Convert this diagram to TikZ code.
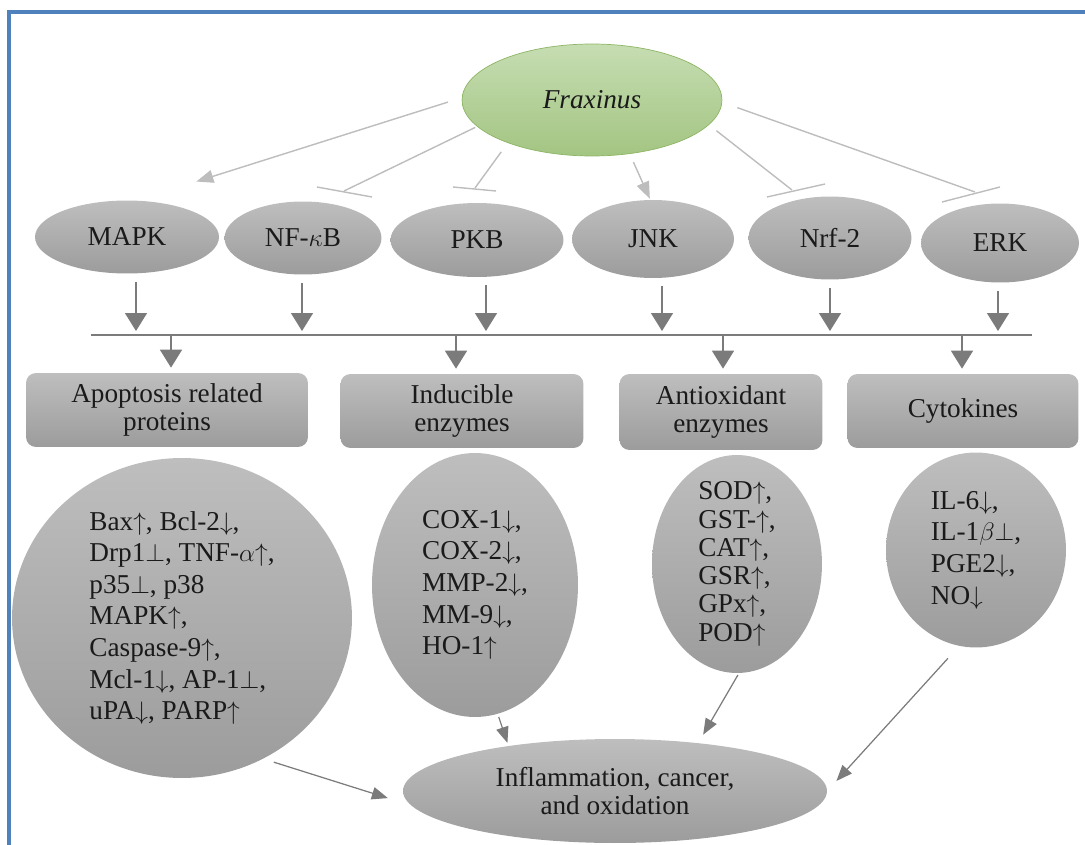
\documentclass[tikz,border=0pt]{standalone}
\usepackage{fontspec}
\setmainfont{Liberation Serif}
\usepackage{tikz}
\usetikzlibrary{arrows.meta,shapes.geometric}
\definecolor{Frame}{HTML}{4F81BD}
\definecolor{LeafTop}{HTML}{C6DDB2}
\definecolor{LeafBot}{HTML}{A3C582}
\definecolor{LeafLine}{HTML}{8DB665}
\definecolor{ShadeTop}{HTML}{BEBEBE}
\definecolor{ShadeBot}{HTML}{9C9C9C}
\definecolor{Link}{HTML}{BDBDBD}
\definecolor{Dark}{HTML}{7B7B7B}
\definecolor{Ink}{HTML}{1A1A1A}

\begin{document}
\begin{tikzpicture}[x=0.02cm,y=-0.02cm,>=Stealth,text=Ink,
    font=\fontsize{15.5}{18}\selectfont,
    blob/.style={ellipse,top color=ShadeTop,bottom color=ShadeBot,inner sep=0pt},
    setblob/.style={blob,inner sep=-0.4cm,align=left},
    box/.style={rounded corners=0.2cm,top color=ShadeTop,bottom color=ShadeBot,align=center,
      font=\fontsize{15.5}{16}\selectfont},
    link/.style={draw=Link,line width=0.8pt},
    act/.style={link,-{Triangle[length=0.34cm,width=0.26cm]}},
    down/.style={draw=Dark,line width=0.85pt,-{Triangle[length=0.36cm,width=0.44cm]}},
    feed/.style={draw=Dark,line width=0.7pt,-{Triangle[length=0.32cm,width=0.25cm]}}]
  \useasboundingbox (0,0) rectangle (1085,845);
  \draw[Frame,line width=0.075cm] (9,845) -- (9,12) -- (1085,12);

  % source plant
  \node[ellipse,draw=LeafLine,top color=LeafTop,bottom color=LeafBot,inner sep=0pt,
    minimum width=5.2cm,minimum height=2.24cm,font=\fontsize{15.5}{18}\selectfont\itshape] (frax) at (592,100) {Fraxinus};

  % pathways
  \foreach \x/\y/\w/\h/\name/\txt in {127/237/3.68/1.46/mapk/MAPK,303/238/3.14/1.46/nfkb/NF-$\kappa$B,
      477/240/3.46/1.48/pkb/PKB,653/239/3.24/1.56/jnk/JNK,830/238/3.26/1.66/nrf/Nrf-2,1000/243/3.16/1.58/erk/ERK}
    \node[blob,minimum width=\w cm,minimum height=\h cm] (\name) at (\x,\y) {\txt};

  % target groups
  \node[box,minimum width=5.64cm,minimum height=1.48cm] (apop) at (167,410) {Apoptosis related\\proteins};
  \node[box,minimum width=4.86cm,minimum height=1.48cm] (induc) at (462,411) {Inducible\\enzymes};
  \node[box,minimum width=4.06cm,minimum height=1.52cm] (antiox) at (721,412) {Antioxidant\\enzymes};
  \node[box,minimum width=4.62cm,minimum height=1.48cm] (cytok) at (963,411) {Cytokines};

  \node[setblob,minimum width=6.8cm,minimum height=6.4cm] (apopset) at (182,618)
    {Bax$\uparrow$, Bcl-2$\downarrow$,\\Drp1$\perp$, TNF-$\alpha{\uparrow}$,\\p35$\perp$, p38\\MAPK$\uparrow$,\\Caspase-9$\uparrow$,\\Mcl-1$\downarrow$, AP-1$\perp$,\\uPA$\downarrow$, PARP$\uparrow$};
  \node[setblob,minimum width=4.12cm,minimum height=5.28cm] (inducset) at (475,585)
    {COX-1$\downarrow$,\\COX-2$\downarrow$,\\MMP-2$\downarrow$,\\MM-9$\downarrow$,\\HO-1$\uparrow$};
  \node[setblob,minimum width=3.4cm,minimum height=4.36cm,font=\fontsize{15.5}{16.1}\selectfont] (antioxset) at (737,564)
    {SOD$\uparrow$,\\GST-$\uparrow$,\\CAT$\uparrow$,\\GSR$\uparrow$,\\GPx$\uparrow$,\\POD$\uparrow$};
  \node[setblob,minimum width=3.6cm,minimum height=3.9cm] (cytokset) at (976,550)
    {IL-6$\downarrow$,\\IL-1$\beta{\perp}$,\\PGE2$\downarrow$,\\NO$\downarrow$};

  \node[blob,minimum width=8.48cm,minimum height=2.08cm,align=center,font=\fontsize{15.5}{16}\selectfont] (infl) at (615,791)
    {Inflammation, cancer,\\and oxidation};

  % Fraxinus -> pathways
  \coordinate (tNF) at (344,191);
  \coordinate (tPKB) at (475,188);
  \coordinate (tNrf) at (792,190);
  \coordinate (tERK) at (975,192);
  \draw[act,shorten <=0.29cm,shorten >=1.25cm] (frax.179) -- (mapk.75);
  \draw[link,shorten <=0.04cm] (frax.193) -- (tNF);
  \draw[link] (tNF) ++(-27,-4) -- ++(55,10);
  \draw[link,shorten <=0.22cm] (frax.207) -- (tPKB);
  \draw[link] (tPKB) ++(-22,-1) -- ++(43,4);
  \draw[act,shorten <=0.18cm,shorten >=0.02cm] (frax.305) -- (jnk.94);
  \draw[link,shorten <=0.19cm] (frax.348) -- (tNrf);
  \draw[link] (tNrf) ++(-25,7) -- ++(58,-13);
  \draw[link,shorten <=0.32cm] (frax.359) -- (tERK);
  \draw[link] (tERK) ++(-33,10) -- ++(58,-15);

  % pathways -> bus -> groups
  \coordinate (busL) at (91,335);
  \coordinate (busR) at (1032,335);
  \draw[draw=Dark,line width=0.85pt] (busL) -- (busR);
  \foreach \name/\x in {mapk/136,nfkb/302,pkb/486,jnk/662,nrf/830,erk/998}{
    \coordinate (in-\name) at (\x,335);
    \draw[down,shorten <=0.16cm,shorten >=0.08cm] (\name.south -| in-\name) -- (in-\name);}
  \foreach \name/\x in {apop/171,induc/456,antiox/723,cytok/962}{
    \coordinate (out-\name) at (\x,335);
    \draw[down,shorten >=0.1cm] (out-\name) -- (out-\name |- \name.north);}

  % groups -> outcome
  \draw[feed,shorten <=0.22cm,shorten >=0.48cm] (apopset.300) -- (infl.184);
  \draw[feed,shorten <=0.06cm,shorten >=0.06cm] (inducset.280) -- (infl.157);
  \draw[feed,shorten <=0.04cm,shorten >=0.19cm] (antioxset.271) -- (infl.30);
  \draw[feed,shorten <=0.33cm,shorten >=0.27cm] (cytokset.260) -- (infl.0);
\end{tikzpicture}
\end{document}
